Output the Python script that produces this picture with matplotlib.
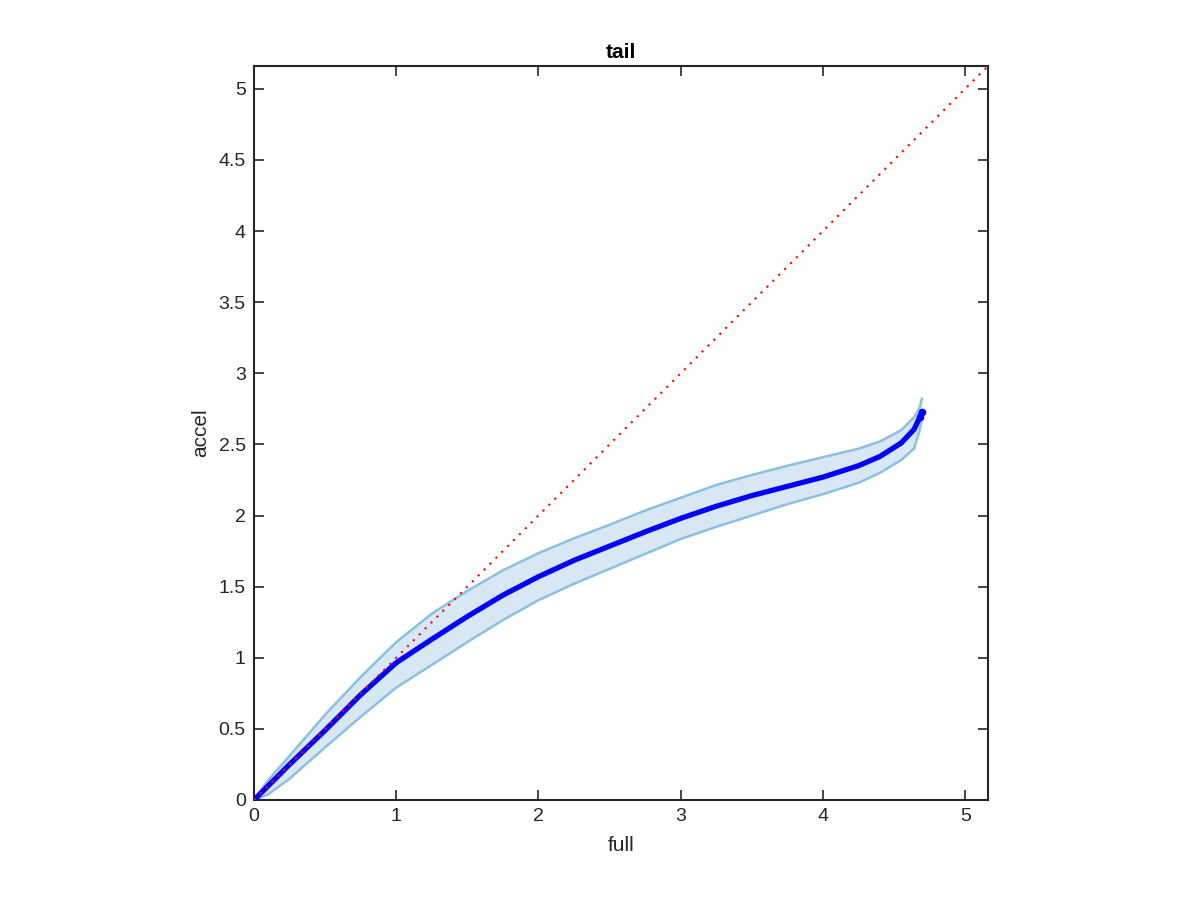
import matplotlib
matplotlib.use("Agg")
import matplotlib.pyplot as plt

x_vals = [0, 0.1, 0.25, 0.5, 0.75, 1.0, 1.25, 1.5, 1.75, 2.0, 2.25, 2.5, 2.75, 3.0, 3.25, 3.5, 3.75, 4.0, 4.25, 4.4, 4.55, 4.64, 4.68, 4.695]
mean_vals = [0, 0.1, 0.25, 0.49, 0.74, 0.965, 1.13, 1.29, 1.44, 1.57, 1.685, 1.785, 1.885, 1.98, 2.065, 2.14, 2.205, 2.27, 2.35, 2.415, 2.51, 2.605, 2.69, 2.73]
upper_vals = [0, 0.14, 0.31, 0.60, 0.865, 1.11, 1.31, 1.47, 1.615, 1.735, 1.84, 1.935, 2.035, 2.125, 2.215, 2.285, 2.35, 2.41, 2.47, 2.52, 2.60, 2.69, 2.76, 2.82]
lower_vals = [0, 0.04, 0.15, 0.37, 0.585, 0.79, 0.95, 1.11, 1.265, 1.405, 1.52, 1.625, 1.73, 1.835, 1.92, 2.00, 2.08, 2.15, 2.23, 2.30, 2.39, 2.47, 2.60, 2.68]
diag_vals = [0, 5.16]
x_ticks = [0, 1, 2, 3, 4, 5]
x_tick_labels = ["0", "1", "2", "3", "4", "5"]
y_ticks = [0, 0.5, 1, 1.5, 2, 2.5, 3, 3.5, 4, 4.5, 5]
y_tick_labels = ["0", "0.5", "1", "1.5", "2", "2.5", "3", "3.5", "4", "4.5", "5"]

plt.rcParams['font.family'] = ['Liberation Sans', 'DejaVu Sans']

fig = plt.figure(figsize=(12, 9), dpi=100)
ax = fig.add_axes([254/1200, 100/900, 734/1200, 734/900])

band_edge = '#8cc0df'
ax.fill_between(x_vals, lower_vals, upper_vals, color='#d7e7f3', lw=0, zorder=1)
ax.plot(x_vals, upper_vals, color=band_edge, lw=1.8, zorder=2, solid_joinstyle='round')
ax.plot(x_vals, lower_vals, color=band_edge, lw=1.8, zorder=2, solid_joinstyle='round')
ax.plot(x_vals, mean_vals, color='#0000ff', lw=3.8, zorder=3, solid_capstyle='round', solid_joinstyle='round')
ax.plot(x_vals[-2:], mean_vals[-2:], color='#0000ff', lw=0, marker='o', ms=4.5, zorder=3)
ax.plot(diag_vals, diag_vals, color='#ff0000', lw=1.5, linestyle=(0, (1, 3)), zorder=4)

ax.set_xlim(0, 5.16)
ax.set_ylim(0, 5.16)
ax.set_xticks(x_ticks)
ax.set_xticklabels(x_tick_labels)
ax.set_yticks(y_ticks)
ax.set_yticklabels(y_tick_labels)
ax.tick_params(direction='in', length=7, width=1.2, top=True, right=True,
               labelsize=14, colors='#262626', pad=6)
for s in ax.spines.values():
    s.set_color('#262626')
    s.set_linewidth(1.5)

ax.set_xlabel('full', fontsize=15, color='#262626', labelpad=8)
ax.set_ylabel('accel', fontsize=15, color='#262626', labelpad=6)
ax.set_title('tail', fontsize=15, fontweight='bold', pad=6)

fig.savefig('out.png', dpi=100)
